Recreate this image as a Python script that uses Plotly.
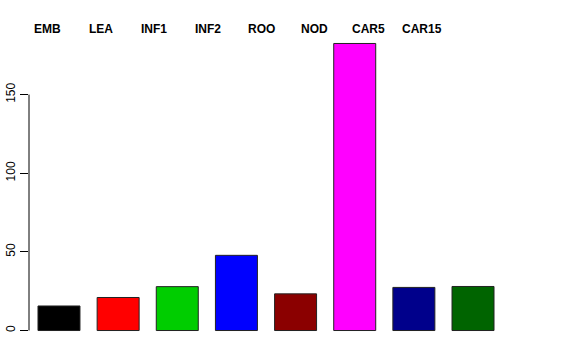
import plotly.graph_objects as go

categories = ["EMB", "LEA", "INF1", "INF2", "ROO", "NOD", "CAR5", "CAR15"]
values = [15.6, 21.0, 27.9, 47.8, 23.3, 182.5, 27.4, 28.0]
colors = ["#000000", "#FF0000", "#00CD00", "#0000FF", "#8B0000", "#FF00FF", "#00008B", "#006400"]
y_ticks = [0, 50, 100, 150]

idx = list(range(len(categories)))

fig = go.Figure()
fig.add_trace(go.Bar(
    x=idx, y=values,
    marker=dict(color=colors, line=dict(color="#222222", width=1)),
    width=0.71,
    showlegend=False,
    hoverinfo="skip",
))

# labels along top (legend-like text row)
LABEL_OFFSET = -0.2
LABEL_STEP = 0.905
for i, name in enumerate(categories):
    fig.add_annotation(
        x=LABEL_OFFSET + LABEL_STEP * i, xref="x",
        y=1.0094, yref="paper", yanchor="middle", xanchor="center",
        text="<b>%s</b>" % name, showarrow=False,
        font=dict(family="Liberation Sans, Arial, sans-serif", size=12, color="black"),
    )

# R-style y-axis line spanning first to last tick only
fig.add_shape(type="line", xref="paper", yref="y", x0=0, x1=0,
              y0=y_ticks[0], y1=y_ticks[-1], line=dict(color="black", width=1))

fig.update_layout(
    width=576, height=360,
    margin=dict(l=29, r=72.6, t=32.4, b=17.5, autoexpand=False),
    paper_bgcolor="white", plot_bgcolor="white",
    font=dict(family="Liberation Sans, Arial, sans-serif", size=12, color="black"),
    xaxis=dict(range=[-0.507, 7.507], showgrid=False, zeroline=False, automargin=False,
               showline=False, showticklabels=False, ticks=""),
    yaxis=dict(range=[-7.3, 189.8], showgrid=False, zeroline=False, showline=False,
               automargin=False,
               tickmode="array", tickvals=y_ticks, ticktext=[str(v) for v in y_ticks],
               ticks="outside", ticklen=8, tickcolor="black", tickwidth=1,
               tickangle=-90, tickfont=dict(size=12)),
)

fig.write_html("out.html")
